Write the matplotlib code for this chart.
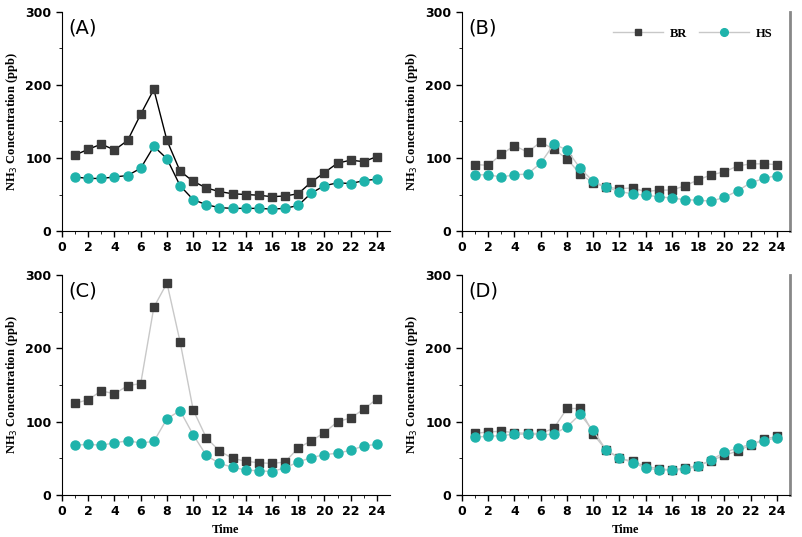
import numpy as np
import matplotlib.pyplot as plt

hours = np.arange(1, 25)

a_br = [104, 112, 119, 111, 124, 160, 194, 124, 82, 68, 59, 54, 51, 50, 49, 47, 48, 51, 67, 80, 93, 97, 95, 102]
a_hs = [74, 72, 72, 74, 76, 86, 116, 99, 62, 43, 36, 32, 31, 31, 31, 30, 31, 35, 52, 62, 66, 65, 69, 71]
b_br = [91, 90, 105, 117, 108, 122, 112, 99, 78, 66, 60, 58, 59, 54, 56, 56, 62, 70, 77, 81, 89, 92, 92, 91]
b_hs = [77, 77, 74, 77, 78, 93, 119, 111, 86, 68, 60, 54, 51, 49, 47, 45, 43, 42, 41, 46, 55, 66, 72, 76]
c_br = [125, 130, 142, 138, 149, 152, 256, 289, 209, 116, 78, 60, 50, 46, 44, 43, 45, 64, 74, 85, 100, 105, 117, 131]
c_hs = [68, 69, 68, 71, 74, 71, 73, 104, 115, 82, 54, 43, 38, 34, 33, 32, 37, 45, 51, 55, 57, 61, 67, 69]
d_br = [84, 86, 87, 85, 84, 84, 91, 118, 118, 83, 61, 50, 46, 39, 36, 34, 37, 40, 47, 54, 60, 68, 76, 80]
d_hs = [79, 80, 81, 83, 83, 82, 83, 93, 110, 88, 61, 51, 44, 37, 34, 34, 35, 39, 48, 58, 64, 69, 74, 78]

panels = [("(A)", a_br, a_hs), ("(B)", b_br, b_hs), ("(C)", c_br, c_hs), ("(D)", d_br, d_hs)]

BR_COLOR = "#3b3b3b"
HS_COLOR = "#1fb3ab"

fig = plt.figure(figsize=(8.02, 5.37), dpi=100)
W, H = 802, 537
boxes = [(62, 12, 390, 231), (462, 12, 790, 231), (62, 275, 390, 495), (462, 275, 790, 495)]

for i, ((label, br, hs), (x0, y0, x1, y1)) in enumerate(zip(panels, boxes)):
    ax = fig.add_axes([x0 / W, 1 - y1 / H, (x1 - x0) / W, (y1 - y0) / H])
    lc = "black" if i == 0 else "#c8c8c8"
    ax.plot(hours, br, "-", color=lc, lw=1, marker="s", ms=5.5,
            mfc=BR_COLOR, mec=BR_COLOR, label="BR", zorder=3)
    ax.plot(hours, hs, "-", color=lc, lw=1, marker="o", ms=6.5,
            mfc=HS_COLOR, mec=HS_COLOR, label="HS", zorder=3)
    ax.set_xlim(0, 25)
    ax.set_ylim(0, 300)
    ax.set_xticks(range(0, 25, 2))
    ax.set_xticks(range(0, 25), minor=True)
    ax.set_yticks([0, 100, 200, 300])
    ax.set_yticks([50, 150, 250], minor=True)
    ax.tick_params(labelsize=9, width=1, length=4, direction="out")
    ax.tick_params(which="minor", length=2)
    for t in ax.get_xticklabels() + ax.get_yticklabels():
        t.set_fontweight("bold")
    ax.spines["top"].set_visible(False)
    if i % 2 == 1:
        ax.spines["right"].set_color("#888888")
        ax.spines["right"].set_linewidth(2)
    else:
        ax.spines["right"].set_visible(False)
    ax.set_ylabel(r"NH$_3$ Concentration (ppb)", fontsize=9, fontweight="bold",
                  family="Liberation Serif")
    if i >= 2:
        ax.set_xlabel("Time", fontsize=9, fontweight="bold", family="Liberation Serif")
    ax.text(0.02, 0.97, label, transform=ax.transAxes, fontsize=14, va="top")
    if i == 1:
        leg = ax.legend(loc="upper right", ncol=2, frameon=False, handlelength=4,
                        markerscale=0.85, columnspacing=1.0, handletextpad=0.5,
                        bbox_to_anchor=(0.98, 0.98),
                        prop={"family": "Liberation Serif", "weight": "bold", "size": 9})
        for h in leg.get_lines():
            h.set_color("#c8c8c8")

fig.savefig("out.png", dpi=100)
